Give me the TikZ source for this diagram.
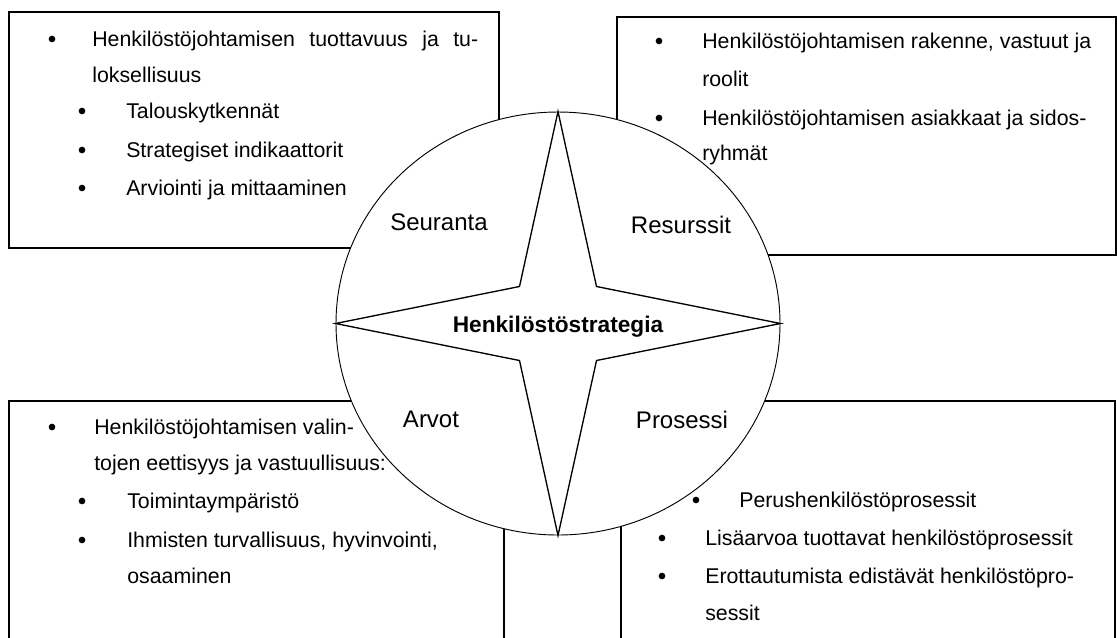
\documentclass[tikz,border=0pt]{standalone}
\usepackage{fontspec}
\setmainfont{Liberation Sans}
\usetikzlibrary{shapes.geometric, fit}
\tikzstyle{panel} = [rectangle, draw=black, line width=1.1pt, inner sep=0pt]
\tikzstyle{item} = [anchor=base west, inner sep=0pt, font=\fontsize{16}{20}\selectfont]
\tikzstyle{bulletdot} = [circle, fill=black, inner sep=0pt, minimum size=5pt]
\tikzstyle{area} = [anchor=base, inner sep=0pt, font=\fontsize{18}{22}\selectfont]
\tikzstyle{hubshape} = [ellipse, draw=black, line width=0.7pt, fill=white, minimum width=333pt, minimum height=317.25pt, inner sep=0pt]
\tikzstyle{starline} = [draw=black, line width=1pt, line join=miter]

\begin{document}
\begin{tikzpicture}[x=0.75pt, y=-0.75pt]
    \useasboundingbox (0,0) rectangle (1117,637);
    \clip (0,0) rectangle (1117,637);

    % the four boxes
    \node (seurbox) [panel, fit={(9,12) (499,248)}] {};
    \node (resbox) [panel, fit={(617,17) (1116,255)}] {};
    \node (arvbox) [panel, fit={(9,401) (504,660)}] {};
    \node (probox) [panel, fit={(621,401) (1115,660)}] {};

    % circle and star
    \node (hub) [hubshape] at (558,323.5) {};
    \draw [starline] (hub.north) -- ([shift={(38.5,-37)}]hub.center) -- (hub.east)
        -- ([shift={(38.5,37)}]hub.center) -- (hub.south)
        -- ([shift={(-38.5,37)}]hub.center) -- (hub.west)
        -- ([shift={(-38.5,-37)}]hub.center) -- cycle;
    \node (core) [anchor=base, inner sep=0pt, font=\fontsize{17}{20}\selectfont\bfseries] at (558,332) {Henkilöstöstrategia};

    \node (seur) [area] at (439,230) {Seuranta};
    \node (res) [area] at (681,233) {Resurssit};
    \node (arv) [area] at (431,427) {Arvot};
    \node (pro) [area] at (682,428) {Prosessi};

    % Seuranta box
    \node (s1d) [bulletdot] at (52,39) {};
    \node (s1) [item] at (92,46) {\makebox[289.5pt][s]{Henkilöstöjohtamisen tuottavuus ja tu-}};
    \node (s2) [item] at (92,82) {loksellisuus};
    \node (s3d) [bulletdot] at (82,111) {};
    \node (s3) [item] at (126,118) {Talouskytkennät};
    \node (s4d) [bulletdot] at (82,150) {};
    \node (s4) [item] at (126,157) {Strategiset indikaattorit};
    \node (s5d) [bulletdot] at (82,188) {};
    \node (s5) [item] at (126,195) {Arviointi ja mittaaminen};

    % Resurssit box
    \node (r1d) [bulletdot] at (659,41) {};
    \node (r1) [item] at (702,48) {Henkilöstöjohtamisen rakenne, vastuut ja};
    \node (r2) [item] at (702,86) {roolit};
    \node (r3d) [bulletdot] at (659,118) {};
    \node (r3) [item] at (702,125) {Henkilöstöjohtamisen asiakkaat ja sidos-};
    \node (r4) [item] at (702,160) {ryhmät};

    % Arvot box
    \node (a1d) [bulletdot] at (52,427) {};
    \node (a1) [item] at (94,434) {Henkilöstöjohtamisen valin-};
    \node (a2) [item] at (94,470) {tojen eettisyys ja vastuullisuus:};
    \node (a3d) [bulletdot] at (82,501) {};
    \node (a3) [item] at (127,508) {Toimintaympäristö};
    \node (a4d) [bulletdot] at (82,540) {};
    \node (a4) [item] at (127,547) {Ihmisten turvallisuus, hyvinvointi,};
    \node (a5) [item] at (127,583) {osaaminen};

    % Prosessi box
    \node (p1d) [bulletdot] at (696,500) {};
    \node (p1) [item] at (739,507) {Perushenkilöstöprosessit};
    \node (p2d) [bulletdot] at (662,538) {};
    \node (p2) [item] at (705,545) {Lisäarvoa tuottavat henkilöstöprosessit};
    \node (p3d) [bulletdot] at (662,576) {};
    \node (p3) [item] at (705,583) {Erottautumista edistävät henkilöstöpro-};
    \node (p4) [item] at (705,620) {sessit};
\end{tikzpicture}
\end{document}
